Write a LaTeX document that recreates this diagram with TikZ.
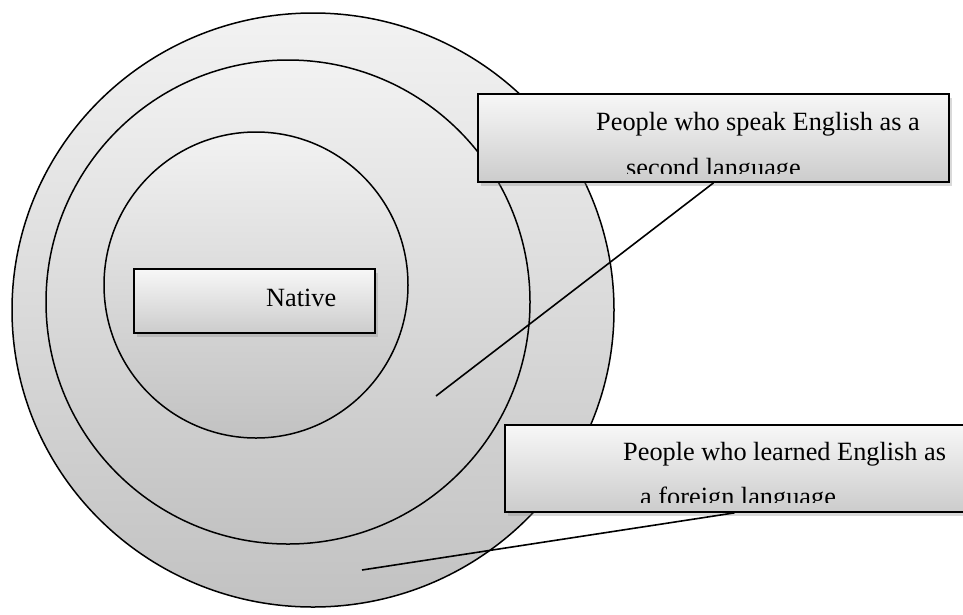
\documentclass[tikz,border=0pt]{standalone}
\usepackage{fontspec}
\setmainfont{Liberation Serif}
\usetikzlibrary{shapes.geometric,shadows}
\begin{document}
\begin{tikzpicture}[x=1pt,y=-1pt,
  ring/.style={ellipse, draw=black, line width=1.5pt, top color=gray!10, bottom color=gray!48, inner sep=0pt},
  labelbox/.style={rectangle, draw=black, line width=1.7pt, top color=gray!6, bottom color=gray!40, inner sep=0pt,
    drop shadow={shadow xshift=3pt, shadow yshift=-4pt, opacity=0.3}},
  lbl/.style={anchor=base west, inner sep=0pt, font=\fontsize{26.3}{30}\selectfont},
  conn/.style={draw=black, line width=1.6pt}]
\useasboundingbox (0,0) rectangle (963,614);
% rings
\node[ring, minimum width=602pt, minimum height=594pt] (outer) at (313,310) {};
\node[ring, minimum width=484pt, minimum height=484pt] (middle) at (288,302) {};
\node[ring, minimum width=304pt, minimum height=306pt] (inner) at (256,285) {};
% native box
\node[labelbox, minimum width=241pt, minimum height=64pt] (nativebox) at (254.5,301) {};
\node[lbl] (nativetxt) at (266,306) {Native};
% connector end points
\coordinate (p1) at (436,396);
\coordinate (p2) at (362,570);
% label boxes
\node[labelbox, minimum width=471pt, minimum height=88pt] (box1) at (713.5,138) {};
\node[labelbox, minimum width=459pt, minimum height=87pt] (box2) at (734.5,468.5) {};
\draw[conn] (p1) -- (box1.south);
\draw[conn] (p2) -- (box2.south);
% texts
\node[lbl] (t1a) at (596,130) {People who speak English as a};
\begin{scope}
  \clip (480,95) rectangle (948,173);
  \node[lbl] (t1b) at (626,176) {second language};
\end{scope}
\node[lbl] (t2a) at (623,460) {People who learned English as};
\begin{scope}
  \clip (506,426) rectangle (963,502);
  \node[lbl] (t2b) at (640,505) {a foreign language};
\end{scope}
\end{tikzpicture}
\end{document}
